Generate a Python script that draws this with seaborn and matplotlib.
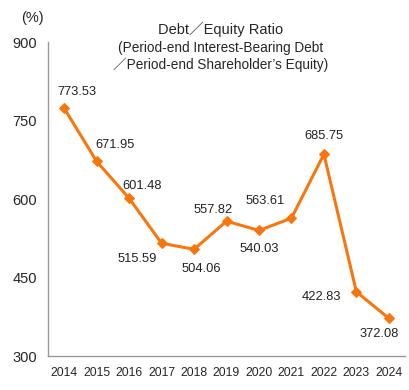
import numpy as np
import pandas as pd
import matplotlib
matplotlib.use("Agg")
import matplotlib.pyplot as plt
import seaborn as sns

years = ["2014", "2015", "2016", "2017", "2018", "2019", "2020", "2021", "2022", "2023", "2024"]
ratio = [773.53, 671.95, 601.48, 515.59, 504.06, 557.82, 540.03, 563.61, 685.75, 422.83, 372.08]
# label offsets in pixels (dx, dy) from each point
label_dx = [13, 18, 13, -24, 7, -13, 0, -26, 0, -35, -10]
label_dy = [16, 16, 12, -16, -20, 11, -19, 17, 18, -5, -16]

sns.set_style("white")
plt.rcParams["font.family"] = ["Liberation Sans", "DejaVu Sans"]

df = pd.DataFrame({"pos": np.arange(len(years)), "ratio": ratio})

fig = plt.figure(figsize=(4.1, 3.9), dpi=100)
ax = fig.add_axes([0.117, 0.087, 0.871, 0.805])
color = "#F7760F"
sns.lineplot(x="pos", y="ratio", data=df, ax=ax, color=color, linewidth=2.2,
             marker="D", markersize=5.5, markeredgecolor=color)

for i, v in enumerate(ratio):
    ax.annotate(f"{v:.2f}", (i, v), xytext=(label_dx[i], label_dy[i]),
                textcoords="offset pixels", ha="center", va="center",
                fontsize=9.3, color="#222222")

ax.set_xlim(-0.5, len(years) - 0.5)
ax.set_ylim(300, 900)
ax.set_yticks([300, 450, 600, 750, 900])
ax.set_xticks(np.arange(len(years)))
ax.set_xticklabels(years)
ax.set_xticks(np.arange(len(years) + 1) - 0.5, minor=True)
ax.tick_params(axis="x", which="major", length=0, labelsize=8.8, pad=8)
ax.tick_params(axis="x", which="minor", direction="in", length=4, color="#999999")
ax.tick_params(axis="y", direction="in", length=4, color="#999999", labelsize=10.5, pad=8)
ax.set_xlabel("")
ax.set_ylabel("")
for s in ["top", "right"]:
    ax.spines[s].set_visible(False)
for s in ["left", "bottom"]:
    ax.spines[s].set_color("#999999")
    ax.spines[s].set_linewidth(1)

fig.text(0.08, 0.955, "(%)", fontsize=10.5, ha="center", va="center")
fig.text(0.538, 0.925, "Debt\uff0fEquity Ratio", fontsize=10.5, ha="center", va="center",
         family=["Liberation Sans", "Noto Sans CJK JP"])
fig.text(0.538, 0.877, "(Period-end Interest-Bearing Debt", fontsize=9.8, ha="center", va="center")
fig.text(0.538, 0.835, "\uff0fPeriod-end Shareholder\u2019s Equity)", fontsize=9.8, ha="center", va="center",
         family=["Liberation Sans", "Noto Sans CJK JP"])

fig.savefig("out.png", dpi=100)
